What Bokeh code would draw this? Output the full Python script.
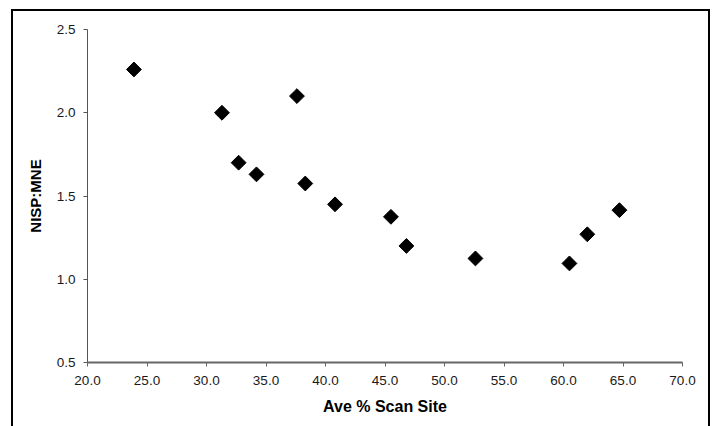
import numpy as np
from bokeh.plotting import figure
from bokeh.models import Range1d, FixedTicker, NumeralTickFormatter
from bokeh.embed import file_html
from bokeh.resources import INLINE

# Data
scan_site = [23.9, 31.3, 32.7, 34.2, 37.6, 38.3, 40.8, 45.5, 46.8, 52.6, 60.5, 62.0, 64.7]
nisp_mne = [2.26, 2.00, 1.70, 1.63, 2.10, 1.575, 1.45, 1.375, 1.20, 1.125, 1.095, 1.27, 1.415]

x_ticks = [20, 25, 30, 35, 40, 45, 50, 55, 60, 65, 70]
y_ticks = [0.5, 1.0, 1.5, 2.0, 2.5]

p = figure(width=699, height=417, output_backend="svg", toolbar_location=None,
           x_range=Range1d(20, 70), y_range=Range1d(0.5, 2.5),
           min_border_left=76, min_border_right=28, min_border_top=20, min_border_bottom=64,
           x_axis_label="Ave % Scan Site", y_axis_label="NISP:MNE")
p.margin = (9, 0, 0, 11)
p.styles = {"box-shadow": "inset 2px 2px 0 0 #000000, inset -2px 0 0 0 #000000",
            "background-color": "white"}
p.outline_line_color = None
p.grid.visible = False
p.background_fill_color = "white"
p.border_fill_color = None

p.scatter(scan_site, nisp_mne, marker="square", size=10.5, angle=np.pi / 4,
          fill_color="black", line_color="black")

for ax in (p.xaxis[0], p.yaxis[0]):
    ax.major_label_text_font = "Liberation Sans"
    ax.major_label_text_font_size = "13.5px"
    ax.major_label_text_color = "#1a1a1a"
    ax.axis_label_text_font = "Liberation Sans"
    ax.axis_label_text_font_size = "15px"
    ax.axis_label_text_font_style = "bold"
    ax.axis_label_text_color = "#000000"
    ax.minor_tick_line_color = None
    ax.major_tick_in = 0
    ax.major_tick_out = 4
    ax.formatter = NumeralTickFormatter(format="0.0")

p.xaxis[0].axis_label_text_font_size = "16px"
p.xaxis[0].ticker = FixedTicker(ticks=x_ticks)
p.yaxis[0].ticker = FixedTicker(ticks=y_ticks)
p.xaxis[0].axis_line_color = "#666666"
p.xaxis[0].axis_line_width = 2
p.xaxis[0].major_tick_line_color = "#666666"
p.yaxis[0].axis_line_color = "#555555"
p.yaxis[0].major_tick_line_color = "#555555"
p.xaxis[0].major_label_standoff = 9
p.yaxis[0].major_label_standoff = 8
p.xaxis[0].axis_label_standoff = 10
p.yaxis[0].axis_label_standoff = 10

open("out.html", "w").write(file_html(p, INLINE))
